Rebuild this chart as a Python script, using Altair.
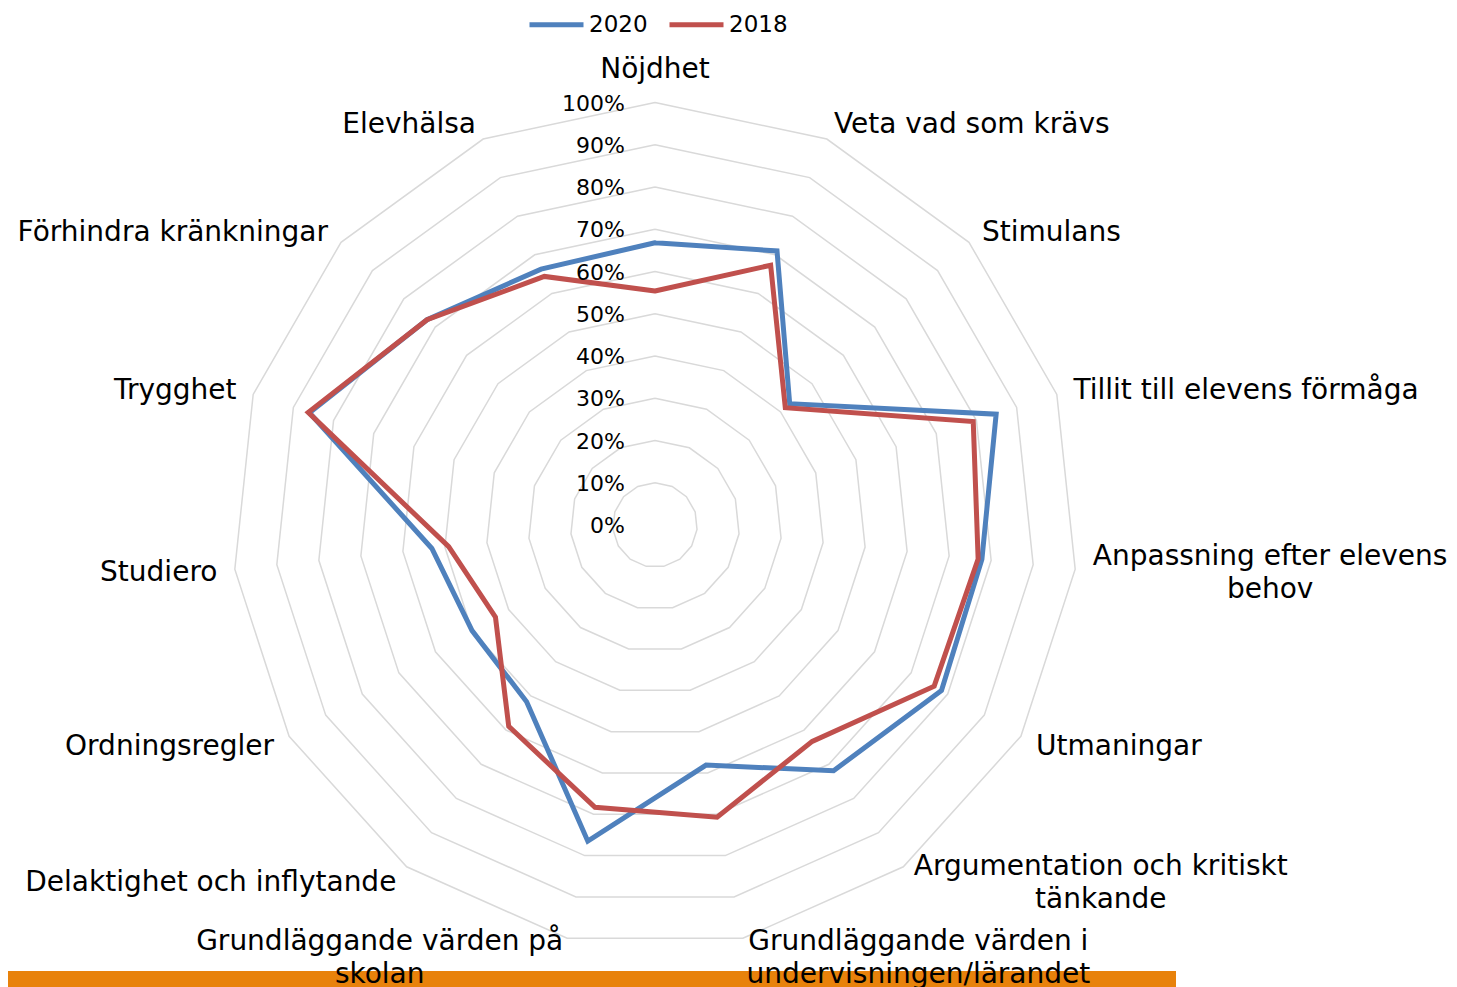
import math
import altair as alt
import pandas as pd

# ---------------- data ----------------
categories = [
    "Nöjdhet",
    "Veta vad som krävs",
    "Stimulans",
    "Tillit till elevens förmåga",
    "Anpassning efter elevens\nbehov",
    "Utmaningar",
    "Argumentation och kritiskt\ntänkande",
    "Grundläggande värden i\nundervisningen/lärandet",
    "Grundläggande värden på\nskolan",
    "Delaktighet och inflytande",
    "Ordningsregler",
    "Studiero",
    "Trygghet",
    "Förhindra kränkningar",
    "Elevhälsa",
]
series_names = ["2020", "2018"]
series_colors = ["#4F81BD", "#C0504D"]
values_2020 = [66.8, 71.0, 42.9, 84.9, 77.8, 78.3, 71.9, 58.1, 76.5, 51.7, 50.0, 53.1, 86.0, 72.6, 66.3]
values_2018 = [55.4, 67.3, 41.5, 79.2, 76.9, 76.3, 63.3, 70.7, 68.3, 58.9, 43.6, 49.1, 86.3, 72.6, 64.4]
tick_levels = [0, 10, 20, 30, 40, 50, 60, 70, 80, 90, 100]
tick_labels = ["0%", "10%", "20%", "30%", "40%", "50%", "60%", "70%", "80%", "90%", "100%"]

# ---------------- layout constants ----------------
W, H = 1441, 979
CX, CY = 647, 517          # centre of radar in chart pixels
PX = 422.5                 # pixels for 100 %
LABEL_R = 440 / PX         # radius of category labels
N = len(categories)
FONT = "DejaVu Sans"
LABEL_SIZE = 28
LINE_H = 33

# approximate DejaVu Sans advance widths (units of 2048) for centring wrapped labels
ADV = {" ": 651, "A": 1401, "G": 1589, "a": 1255, "b": 1300, "c": 1126, "d": 1300,
       "e": 1260, "f": 721, "g": 1300, "h": 1298, "i": 569, "k": 1186, "l": 569,
       "m": 1995, "n": 1298, "o": 1253, "p": 1300, "r": 842, "s": 1067, "t": 803,
       "u": 1298, "v": 1212, "ä": 1255, "å": 1255, "/": 690}


def text_width(s):
    return sum(ADV.get(c, 1230) for c in s) / 2048 * LABEL_SIZE


# ---------------- tables ----------------
rows = []
for name, vals in zip(series_names, [values_2020, values_2018]):
    for k in range(N + 1):
        rows.append({"series": name, "i": k, "v": vals[k % N] / 100})
series_df = pd.DataFrame(rows)

ring_rows = []
for lev in tick_levels[1:]:
    for k in range(N + 1):
        ring_rows.append({"level": lev, "i": k, "v": lev / 100})
ring_df = pd.DataFrame(ring_rows)

tick_df = pd.DataFrame({"v": [t / 100 for t in tick_levels], "label": tick_labels})

lab_rows = []
for k, cat in enumerate(categories):
    th = k * 2 * math.pi / N
    s, c = math.sin(th), math.cos(th)
    shift = 0.0
    if abs(s) < 1e-6:
        anchor = "top"
    elif "\n" in cat:
        anchor = "center"
        bw = max(text_width(line) for line in cat.split("\n"))
        shift = math.copysign(bw / 2 / PX, s)
    elif s > 0:
        anchor = "left"
    else:
        anchor = "right"
    lab_rows.append({"label": cat, "i": k, "anchor": anchor, "shift": shift})
lab_df = pd.DataFrame(lab_rows)

bar_df = pd.DataFrame({"a": [0]})

# ---------------- scales ----------------
xs = alt.Scale(domain=[-CX / PX, (W - CX) / PX], nice=False, zero=False)
ys = alt.Scale(domain=[-(H - CY) / PX, CY / PX], nice=False, zero=False)
X = alt.X("x:Q", scale=xs, axis=None)
Y = alt.Y("y:Q", scale=ys, axis=None)

polar = dict(
    theta=f"datum.i * 2 * PI / {N}",
)

rings = alt.Chart(ring_df).transform_calculate(**polar).transform_calculate(
    x="datum.v * sin(datum.theta)", y="datum.v * cos(datum.theta)"
).mark_line(color="#D9D9D9", strokeWidth=1.5).encode(
    x=X, y=Y, detail="level:N", order="i:Q"
)

color = alt.Color(
    "series:N",
    scale=alt.Scale(domain=series_names, range=series_colors),
    legend=alt.Legend(
        title=None, orient="none", legendX=519, legendY=-13, direction="horizontal",
        symbolType="stroke", symbolSize=2916, symbolStrokeWidth=5,
        labelFont=FONT, labelFontSize=23, labelColor="#000000", labelOffset=3,
        columnPadding=11, padding=0,
    ),
)


def series_layer(name):
    return alt.Chart(series_df).transform_filter(
        alt.datum.series == name
    ).transform_calculate(**polar).transform_calculate(
        x="datum.v * sin(datum.theta)", y="datum.v * cos(datum.theta)"
    ).mark_line(strokeWidth=5, strokeCap="round").encode(
        x=X, y=Y, color=color, order="i:Q"
    )


ticks = alt.Chart(tick_df).transform_calculate(x="0", y="datum.v").mark_text(
    align="right", baseline="middle", dx=-30, dy=1, font=FONT, fontSize=22, color="#000000"
).encode(x=X, y=Y, text="label:N")


def label_layer(anchor, align, baseline, dy=0):
    return alt.Chart(lab_df).transform_filter(
        alt.datum.anchor == anchor
    ).transform_calculate(**polar).transform_calculate(
        x=f"{LABEL_R} * sin(datum.theta) + datum.shift",
        y=f"{LABEL_R} * cos(datum.theta)",
    ).mark_text(
        align=align, baseline=baseline, dy=dy, font=FONT, fontSize=LABEL_SIZE,
        color="#000000", lineBreak="\n", lineHeight=LINE_H,
    ).encode(x=X, y=Y, text="label:N")


labels = [
    label_layer("top", "center", "bottom", -1),
    label_layer("left", "left", "middle", 2),
    label_layer("right", "right", "middle", 2),
    label_layer("center", "center", "middle", -LINE_H / 2 + 3),
]

bar = alt.Chart(bar_df).mark_rect(color="#E8820B").encode(
    x=alt.value(0), x2=alt.value(1168), y=alt.value(963), y2=alt.value(H)
)

chart = alt.layer(
    rings, bar, series_layer("2020"), series_layer("2018"), ticks, *labels
).properties(
    width=W, height=H, autosize="none", padding=0
).configure_view(stroke=None)

chart.save("out.html", embed_options={"renderer": "svg", "actions": False})
